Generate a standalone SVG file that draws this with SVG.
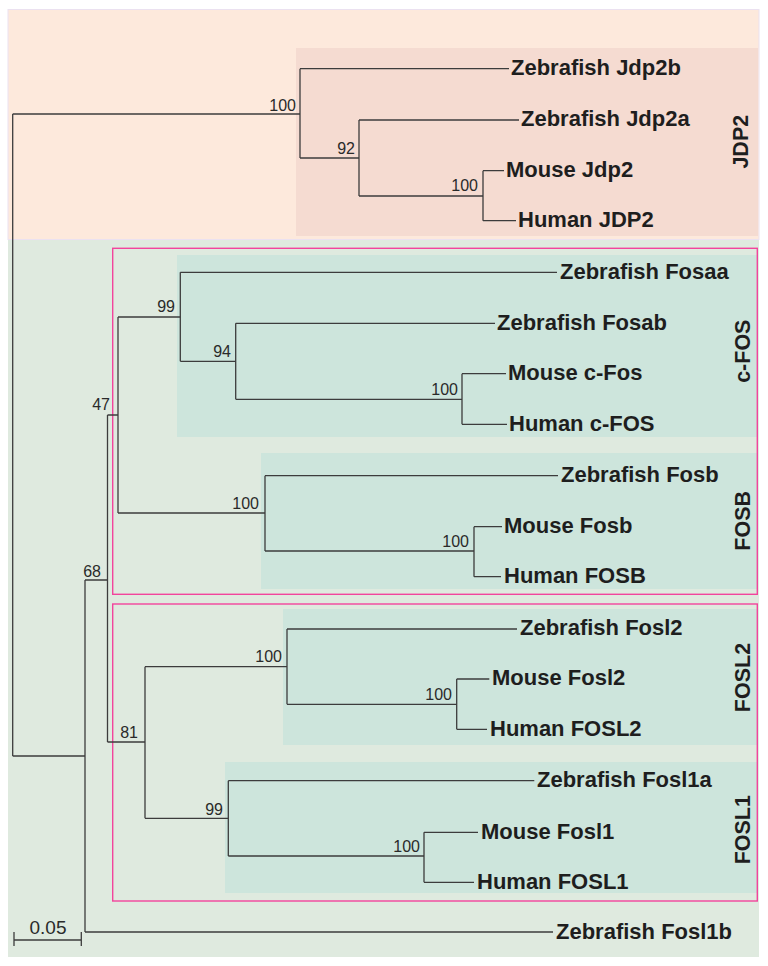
<svg xmlns="http://www.w3.org/2000/svg" width="768" height="966" viewBox="0 0 768 966">
<style>
.br{fill:none;stroke:#3c3c3c;stroke-width:1.3}
.lf{font-family:"Liberation Sans",Arial,sans-serif;font-weight:bold;font-size:22px;fill:#1e1e1e}
.bs{font-family:"Liberation Sans",Arial,sans-serif;font-size:16px;fill:#2a2a2a}
.bsr{font-family:"Liberation Sans",Arial,sans-serif;font-size:16px;fill:#2a2a2a;text-anchor:end}
.grp{font-family:"Liberation Sans",Arial,sans-serif;font-weight:bold;font-size:21.5px;fill:#1e1e1e;text-anchor:middle}
.clade{fill:#cde5dc}
.pink{fill:none;stroke:#f2449c;stroke-width:1.4}
</style>
<rect width="768" height="966" fill="#ffffff"/>
<g id="backgrounds">
<rect x="8" y="9.5" width="751" height="230" fill="#fde9dc" stroke="#ebe1f0" stroke-width="1"/>
<rect x="8" y="240" width="751" height="717" fill="#dfeadf"/>
<rect x="296" y="48" width="462" height="188" fill="#f5dbd1"/>
<rect class="clade" x="177" y="255" width="580" height="182"/>
<rect class="clade" x="261" y="453" width="496" height="136"/>
<rect class="clade" x="283" y="609" width="474" height="136"/>
<rect class="clade" x="225" y="762" width="532" height="131"/>
<rect class="pink" x="112.7" y="248.3" width="644.6" height="346"/>
<rect class="pink" x="112.7" y="604" width="644.6" height="297"/>
</g>
<g id="connectors">
<path class="br" d="M12.7,114 V756 M12.7,114 H300 M12.7,756 H85"/>
<path class="br" d="M300,68.7 V158 M300,68.7 H509 M300,158 H359"/>
<path class="br" d="M359,120 V196 M359,120 H519 M359,196 H483"/>
<path class="br" d="M483,170.7 V220.7 M483,170.7 H504 M483,220.7 H516"/>
<path class="br" d="M85,580 V932 M85,580 H107.5 M85,932 H553"/>
<path class="br" d="M107.5,415 V742 M107.5,415 H118 M107.5,742 H145"/>
<path class="br" d="M118,317 V513 M118,317 H180.3 M118,513 H265"/>
<path class="br" d="M180.3,272.3 V361.3 M180.3,272.3 H557 M180.3,361.3 H235.7"/>
<path class="br" d="M235.7,323.3 V399.3 M235.7,323.3 H495 M235.7,399.3 H462"/>
<path class="br" d="M462,373.7 V424.3 M462,373.7 H506 M462,424.3 H507"/>
<path class="br" d="M265,475.7 V551 M265,475.7 H558 M265,551 H474"/>
<path class="br" d="M474,526.7 V576.7 M474,526.7 H502 M474,576.7 H501"/>
<path class="br" d="M145,666.7 V818.3 M145,666.7 H287 M145,818.3 H228.3"/>
<path class="br" d="M287,629 V704.3 M287,629 H517 M287,704.3 H456.7"/>
<path class="br" d="M456.7,679 V729.3 M456.7,679 H489.3 M456.7,729.3 H487"/>
<path class="br" d="M228.3,780.7 V856 M228.3,780.7 H534.3 M228.3,856 H424"/>
<path class="br" d="M424,832.3 V882.3 M424,832.3 H478 M424,882.3 H474"/>
<path class="br" d="M14,940 H81.3 M14,932 V946 M81.3,932 V946"/>
</g>
<g id="bootstrap">
<text class="bsr" x="296" y="111">100</text>
<text class="bsr" x="355" y="154">92</text>
<text class="bsr" x="478" y="191">100</text>
<text class="bsr" x="110" y="410">47</text>
<text class="bsr" x="101" y="577">68</text>
<text class="bsr" x="175" y="312">99</text>
<text class="bsr" x="231" y="357">94</text>
<text class="bsr" x="458" y="395">100</text>
<text class="bsr" x="259" y="509">100</text>
<text class="bsr" x="469" y="547">100</text>
<text class="bsr" x="138" y="738">81</text>
<text class="bsr" x="282" y="662">100</text>
<text class="bsr" x="452" y="700">100</text>
<text class="bsr" x="223" y="815">99</text>
<text class="bsr" x="420" y="852">100</text>
<text class="bs" x="29.5" y="934" style="font-size:19px">0.05</text>
</g>
<g id="leaves">
<g id="n-zf-jdp2b"><text class="lf" x="511" y="75">Zebrafish Jdp2b</text></g>
<g id="n-zf-jdp2a"><text class="lf" x="521" y="126.3">Zebrafish Jdp2a</text></g>
<g id="n-ms-jdp2"><text class="lf" x="506" y="177">Mouse Jdp2</text></g>
<g id="n-hs-jdp2"><text class="lf" x="518" y="227">Human JDP2</text></g>
<g id="n-zf-fosaa"><text class="lf" x="560" y="278.6">Zebrafish Fosaa</text></g>
<g id="n-zf-fosab"><text class="lf" x="497" y="329.6">Zebrafish Fosab</text></g>
<g id="n-ms-cfos"><text class="lf" x="508" y="380">Mouse c-Fos</text></g>
<g id="n-hs-cfos"><text class="lf" x="509" y="430.6">Human c-FOS</text></g>
<g id="n-zf-fosb"><text class="lf" x="561" y="482">Zebrafish Fosb</text></g>
<g id="n-ms-fosb"><text class="lf" x="504" y="533">Mouse Fosb</text></g>
<g id="n-hs-fosb"><text class="lf" x="504" y="583">Human FOSB</text></g>
<g id="n-zf-fosl2"><text class="lf" x="520" y="635.3">Zebrafish Fosl2</text></g>
<g id="n-ms-fosl2"><text class="lf" x="492" y="685.3">Mouse Fosl2</text></g>
<g id="n-hs-fosl2"><text class="lf" x="490" y="735.6">Human FOSL2</text></g>
<g id="n-zf-fosl1a"><text class="lf" x="537" y="787">Zebrafish Fosl1a</text></g>
<g id="n-ms-fosl1"><text class="lf" x="481" y="838.6">Mouse Fosl1</text></g>
<g id="n-hs-fosl1"><text class="lf" x="477" y="888.6">Human FOSL1</text></g>
<g id="n-zf-fosl1b"><text class="lf" x="556" y="938.6">Zebrafish Fosl1b</text></g>
</g>
<g id="groups">
<g id="g-jdp2"><text class="grp" transform="translate(748,141.7) rotate(-90)">JDP2</text></g>
<g id="g-cfos"><text class="grp" transform="translate(750,351.2) rotate(-90)">c-FOS</text></g>
<g id="g-fosb"><text class="grp" transform="translate(750,520.8) rotate(-90)">FOSB</text></g>
<g id="g-fosl2"><text class="grp" transform="translate(750,677.5) rotate(-90)">FOSL2</text></g>
<g id="g-fosl1"><text class="grp" transform="translate(750,829.7) rotate(-90)">FOSL1</text></g>
</g>
</svg>
